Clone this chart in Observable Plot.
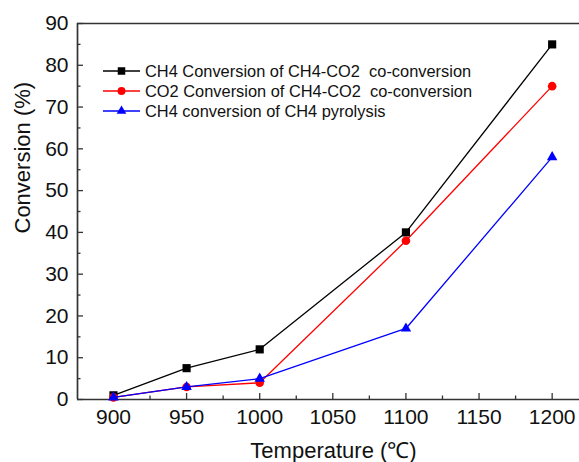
<!DOCTYPE html>
<html>
<head>
<meta charset="utf-8">
<script src="https://cdn.jsdelivr.net/npm/d3@7"></script>
<script src="https://cdn.jsdelivr.net/npm/@observablehq/plot@0.6"></script>
<style>
  html, body { margin: 0; padding: 0; background: #fff; }
  #wrap { position: relative; width: 579px; height: 462px; overflow: hidden; font-family: Arial, "Liberation Sans", sans-serif; }
  #legend { position: absolute; left: 103px; top: 61px; font-size: 16.4px; color: #111; }
  #legend .row { display: flex; align-items: center; height: 20px; white-space: pre; }
  #legend svg { margin-right: 5px; }
</style>
</head>
<body>
<div id="wrap"><div id="chart"></div><div id="legend"></div></div>
<script>
// ---- data ----
const temps = [900, 950, 1000, 1100, 1200];
const seriesNames = [
  "CH4 Conversion of CH4-CO2  co-conversion",
  "CO2 Conversion of CH4-CO2  co-conversion",
  "CH4 conversion of CH4 pyrolysis"
];
const ch4CoConv = [1, 7.5, 12, 40, 85];
const co2CoConv = [0.5, 3, 4, 38, 75];
const ch4Pyro = [0.5, 3, 5, 17, 58];
const xTicks = [900, 950, 1000, 1050, 1100, 1150, 1200];
const xMinorTicks = [925, 975, 1025, 1075, 1125, 1175];
const yTicks = [0, 10, 20, 30, 40, 50, 60, 70, 80, 90];
const yMinorTicks = [5, 15, 25, 35, 45, 55, 65, 75, 85];
const xTitle = "Temperature (\u2103)";
const yTitle = "Conversion (%)";

// ---- styles ----
const colors = ["#000000", "#ff0000", "#0000ff"];
const symbols = ["square", "circle", "triangle"];
const radii = [4.6, 4.3, 3.9];
const xDomain = [875.4, 1218.7];
const yDomain = [0, 90];

const values = [ch4CoConv, co2CoConv, ch4Pyro];
const table = values.map((vals, i) => temps.map((t, j) => ({temp: t, conv: vals[j], series: seriesNames[i]})));

const W = 579, H = 462, mL = 77, mR = 0, mT = 23, mB = 63;
const plotW = W - mL - mR, plotH = H - mT - mB;
const axisColor = "#333";

const marks = [];
// frame (left, top, bottom)
marks.push(Plot.ruleX([xDomain[0]], {stroke: axisColor, strokeWidth: 1.7}));
marks.push(Plot.ruleY([yDomain[1]], {stroke: axisColor, strokeWidth: 1.7}));
marks.push(Plot.ruleY([yDomain[0]], {stroke: axisColor, strokeWidth: 1.7}));
// inward ticks
marks.push(Plot.tickY(yTicks, {y: d => d, stroke: axisColor, strokeWidth: 1.3, insetRight: plotW - 6}));
marks.push(Plot.tickY(yMinorTicks, {y: d => d, stroke: axisColor, strokeWidth: 1.3, insetRight: plotW - 3.5}));
marks.push(Plot.tickX(xTicks, {x: d => d, stroke: axisColor, strokeWidth: 1.3, insetTop: plotH - 6}));
marks.push(Plot.tickX(xMinorTicks, {x: d => d, stroke: axisColor, strokeWidth: 1.3, insetTop: plotH - 3.5}));
// tick labels
marks.push(Plot.axisY(yTicks, {tickSize: 0, tickPadding: 9, fontSize: 21, label: null, color: "#111", tickFormat: "d"}));
marks.push(Plot.axisX(xTicks, {tickSize: 0, tickPadding: 10, fontSize: 21, label: null, color: "#111", tickFormat: "d"}));
// axis titles
marks.push(Plot.text([xTitle], {text: d => d, frameAnchor: "bottom", dx: 5, dy: 58, fontSize: 22, fill: "#111"}));
marks.push(Plot.text([yTitle], {text: d => d, frameAnchor: "left", rotate: -90, dx: -55, dy: 22, fontSize: 22, fill: "#111"}));
// series
table.forEach((rows, i) => {
  marks.push(Plot.line(rows, {x: "temp", y: "conv", stroke: colors[i], strokeWidth: 1.3}));
  marks.push(Plot.dot(rows, {x: "temp", y: "conv", symbol: symbols[i], r: radii[i], fill: colors[i], stroke: "none"}));
});

const chart = Plot.plot({
  width: W, height: H,
  marginLeft: mL, marginRight: mR, marginTop: mT, marginBottom: mB,
  x: {domain: xDomain, axis: null},
  y: {domain: yDomain, axis: null},
  style: {fontFamily: "Arial, 'Liberation Sans', sans-serif", background: "transparent", overflow: "visible"},
  marks
});
document.getElementById("chart").appendChild(chart);

// legend (HTML swatches)
const legend = document.getElementById("legend");
seriesNames.forEach((name, i) => {
  const row = document.createElement("div");
  row.className = "row";
  const sw = d3.create("svg").attr("width", 37).attr("height", 20);
  sw.append("line").attr("x1", 0).attr("x2", 37).attr("y1", 10).attr("y2", 10).attr("stroke", colors[i]).attr("stroke-width", 1.5);
  const sym = d3.symbol().type(symbols[i] === "square" ? d3.symbolSquare : symbols[i] === "circle" ? d3.symbolCircle : d3.symbolTriangle)
    .size(Math.PI * radii[i] * radii[i] * 0.85);
  sw.append("path").attr("d", sym()).attr("transform", "translate(18.5,10)").attr("fill", colors[i]);
  row.appendChild(sw.node());
  const span = document.createElement("span");
  span.textContent = name;
  row.appendChild(span);
  legend.appendChild(row);
});
</script>
</body>
</html>
